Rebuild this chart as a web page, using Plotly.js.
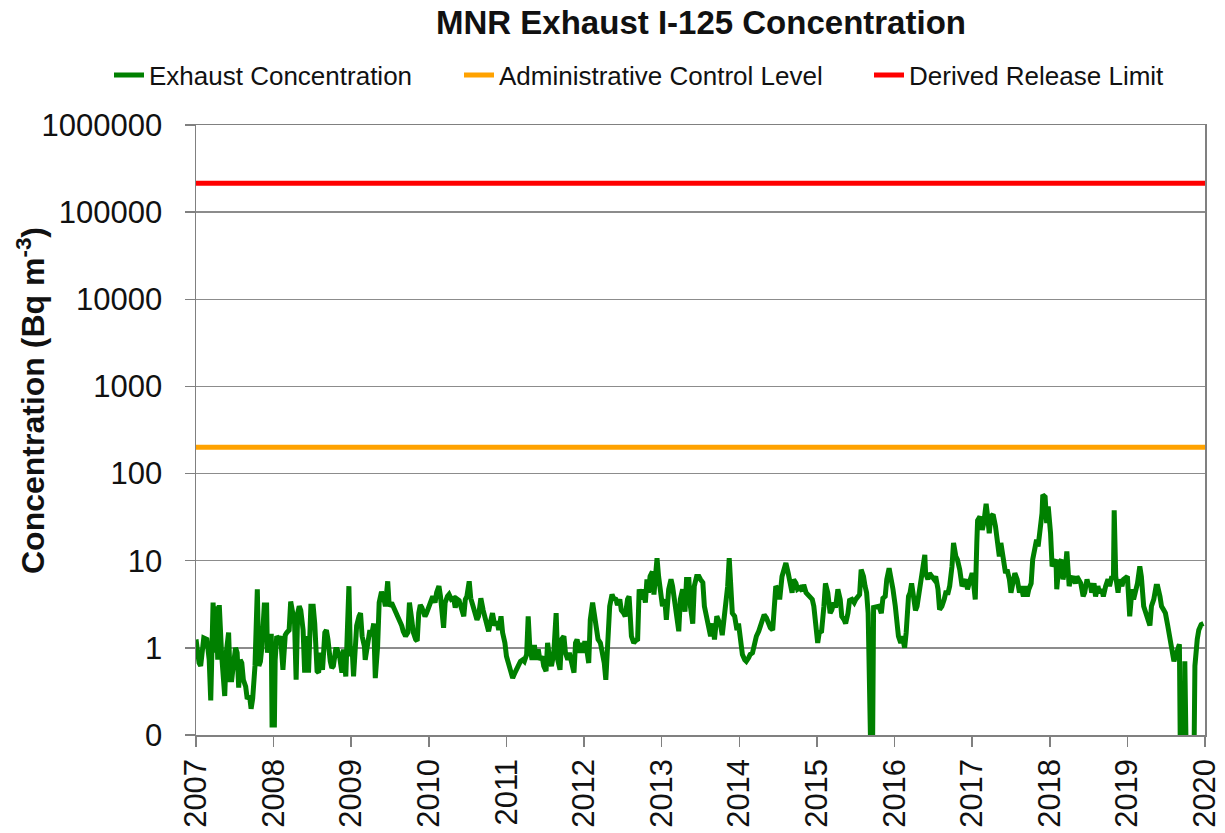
<!DOCTYPE html>
<html>
<head>
<meta charset="utf-8">
<script src="https://cdn.plot.ly/plotly-3.0.1.min.js"></script>
<style>
html,body{margin:0;padding:0;background:#fff;}
#chart{width:1225px;height:833px;}
</style>
</head>
<body>
<div id="chart"></div>
<script>
// ---- Data ----
const years = [
2007.00,2007.02,2007.04,2007.06,2007.10,2007.14,2007.17,2007.19,2007.22,2007.24,
2007.26,2007.28,2007.30,2007.33,2007.35,2007.37,2007.39,2007.42,2007.44,2007.46,
2007.48,2007.51,2007.53,2007.55,2007.57,2007.59,2007.61,2007.64,2007.66,2007.69,
2007.71,2007.73,2007.76,2007.79,2007.81,2007.83,2007.85,2007.88,2007.91,2007.92,
2007.94,2007.97,2007.98,2008.01,2008.02,2008.04,2008.07,2008.09,2008.12,2008.15,
2008.17,2008.20,2008.22,2008.24,2008.27,2008.29,2008.31,2008.33,2008.35,2008.38,
2008.40,2008.43,2008.45,2008.48,2008.51,2008.53,2008.56,2008.58,2008.60,2008.63,
2008.66,2008.68,2008.70,2008.73,2008.75,2008.77,2008.80,2008.82,2008.85,2008.88,
2008.90,2008.93,2008.97,2008.99,2009.01,2009.03,2009.05,2009.07,2009.10,2009.12,
2009.14,2009.17,2009.18,2009.21,2009.24,2009.26,2009.29,2009.31,2009.34,2009.36,
2009.39,2009.42,2009.44,2009.47,2009.49,2009.52,2009.55,2009.57,2009.60,2009.62,
2009.65,2009.67,2009.70,2009.73,2009.75,2009.78,2009.80,2009.83,
2009.85,2009.87,2009.89,2009.91,2009.93,2009.95,2009.97,2010.00,2010.03,2010.05,
2010.08,2010.10,2010.13,2010.15,2010.19,2010.21,2010.24,2010.26,2010.29,2010.32,
2010.34,2010.37,2010.39,2010.42,2010.45,2010.47,2010.49,2010.52,2010.54,2010.57,
2010.59,2010.62,2010.64,2010.67,2010.70,2010.72,2010.75,2010.77,2010.80,2010.82,
2010.85,2010.88,2010.90,2010.93,2010.95,2010.98,2011.00,2011.03,2011.06,2011.08,
2011.11,2011.13,2011.16,2011.18,2011.21,2011.23,2011.26,2011.28,2011.30,2011.33,
2011.36,2011.38,2011.41,2011.43,2011.46,2011.48,2011.51,2011.53,2011.56,2011.58,
2011.61,2011.64,2011.66,2011.69,2011.71,2011.74,2011.76,2011.79,2011.81,2011.84,
2011.87,2011.89,2011.91,2011.94,2011.96,2011.99,2012.01,2012.04,2012.06,2012.08,
2012.11,2012.13,2012.16,2012.18,2012.21,2012.23,2012.26,2012.28,2012.30,2012.33,
2012.36,2012.38,2012.41,2012.43,2012.46,2012.48,2012.51,2012.53,2012.56,2012.58,
2012.61,2012.64,2012.66,2012.69,2012.71,
2012.74,2012.76,2012.79,2012.81,2012.83,2012.85,2012.88,2012.90,2012.93,2012.94,
2012.96,2012.99,2013.01,2013.04,2013.06,2013.09,2013.12,2013.14,2013.17,2013.19,
2013.22,2013.24,2013.27,2013.30,2013.32,2013.35,2013.37,2013.40,2013.42,2013.45,
2013.48,2013.50,2013.53,2013.55,2013.58,2013.60,2013.63,2013.66,2013.68,2013.71,
2013.73,2013.76,2013.78,2013.81,2013.83,2013.85,2013.87,2013.89,2013.91,2013.94,
2013.97,2013.99,2014.02,2014.04,2014.07,2014.09,2014.12,2014.14,2014.17,2014.20,
2014.22,2014.25,2014.27,2014.30,2014.32,2014.35,2014.38,2014.40,2014.43,2014.45,
2014.47,2014.50,2014.52,2014.55,2014.57,2014.60,2014.63,2014.65,2014.68,2014.70,
2014.73,2014.75,2014.78,2014.81,2014.83,2014.86,2014.88,2014.91,2014.94,2014.96,
2014.99,2015.01,2015.03,2015.06,2015.09,2015.11,2015.14,2015.17,2015.19,2015.22,
2015.24,2015.27,2015.30,2015.32,2015.35,2015.37,2015.40,2015.42,2015.45,2015.48,
2015.50,2015.53,2015.55,2015.57,2015.60,2015.62,2015.64,2015.66,2015.68,2015.71,
2015.73,2015.77,2015.80,2015.83,2015.85,2015.88,2015.90,2015.93,2015.96,2015.98,
2016.01,2016.03,2016.05,2016.08,2016.10,2016.13,2016.15,2016.18,2016.20,2016.22,
2016.25,2016.27,2016.29,2016.32,2016.34,2016.37,2016.39,2016.40,2016.43,2016.45,
2016.48,2016.51,2016.53,2016.56,2016.58,2016.61,2016.64,2016.66,2016.69,2016.71,
2016.74,2016.76,2016.79,2016.81,2016.84,2016.87,2016.89,2016.92,2016.94,2016.97,
2017.00,2017.01,2017.04,2017.06,2017.07,2017.10,2017.13,2017.15,2017.18,2017.20,
2017.22,2017.24,2017.27,2017.30,2017.32,2017.35,2017.37,2017.40,2017.43,2017.45,
2017.48,2017.50,2017.53,2017.55,2017.58,2017.61,2017.63,2017.66,2017.68,2017.71,
2017.73,2017.76,2017.78,2017.80,2017.83,2017.85,2017.88,2017.90,2017.91,2017.94,
2017.96,2017.98,2018.01,2018.03,2018.05,2018.08,2018.09,2018.12,2018.15,2018.17,
2018.20,2018.22,2018.25,2018.27,2018.30,2018.33,2018.35,2018.38,2018.40,2018.43,
2018.45,2018.48,2018.50,2018.52,2018.54,2018.57,2018.59,2018.62,2018.64,2018.67,
2018.69,2018.72,2018.75,2018.77,2018.80,2018.82,2018.83,2018.85,2018.88,2018.90,
2018.93,2018.95,2018.98,2019.00,2019.03,2019.06,2019.08,2019.11,2019.13,2019.16,
2019.18,2019.21,2019.24,2019.26,2019.29,2019.31,2019.34,2019.37,2019.39,2019.42,
2019.44,2019.47,2019.49,2019.52,2019.55,2019.57,2019.60,2019.62,2019.65,2019.67,
2019.69,2019.73,2019.74,2019.77,2019.85,2019.87,2019.90,2019.92,2019.95,2019.98
];
const exhaustConc = [
1.25,0.88,0.67,0.62,1.3,1.25,0.73,0.25,3.3,0.88,
3.0,0.73,3.1,0.84,0.43,0.28,0.88,1.5,0.43,0.43,
0.62,1.0,0.88,0.35,0.73,0.67,0.43,0.36,0.26,0.28,
0.2,0.26,0.62,4.7,0.62,0.7,1.04,3.1,3.1,0.88,
1.36,1.36,0.13,0.13,0.73,1.36,1.25,1.36,0.56,1.4,
1.5,1.6,3.4,2.7,1.9,0.43,2.5,3.0,2.7,1.6,
0.52,1.36,0.52,3.0,3.0,1.9,0.54,0.52,0.88,0.56,
1.5,1.6,1.25,0.7,0.59,0.62,0.96,0.96,0.8,0.52,
0.96,0.47,5.1,0.8,1.04,0.47,1.25,1.8,2.3,2.5,
1.36,1.04,0.73,1.14,1.6,1.36,1.9,0.45,1.04,3.3,
4.4,3.7,3.0,5.8,3.0,3.3,2.9,2.7,2.3,2.1,
1.8,1.55,1.36,1.5,3.3,2.1,1.5,1.25,
1.2,2.5,3.1,2.9,2.4,2.3,2.5,3.0,3.7,3.9,
3.3,4.3,5.1,3.9,1.7,3.3,3.9,4.1,3.6,3.7,
2.9,3.6,3.5,2.7,2.3,3.6,3.9,5.8,3.7,3.0,
2.5,2.1,2.3,3.7,2.7,2.3,1.8,1.55,2.1,2.5,
1.8,2.0,1.6,2.3,1.5,1.14,0.8,0.65,0.52,0.45,
0.52,0.56,0.65,0.7,0.73,0.7,0.84,2.3,1.04,0.73,
1.08,0.73,0.96,0.73,0.8,0.62,0.54,1.14,0.7,0.62,
0.88,2.5,0.73,0.56,1.25,1.36,0.88,0.73,0.88,0.67,
0.52,1.14,1.25,0.88,1.14,0.88,1.2,0.88,0.67,2.1,
3.3,2.5,1.6,1.25,1.14,0.96,0.67,0.43,1.04,3.0,
4.1,3.7,3.6,3.1,3.6,2.7,2.5,2.3,3.6,3.9,
1.36,1.14,1.2,1.25,4.7,
3.6,4.7,3.3,6.1,4.3,6.6,7.5,4.1,7.9,10.7,
6.6,3.9,3.0,3.6,2.1,4.7,6.1,5.1,3.4,2.3,
1.55,3.6,4.7,2.6,6.1,6.1,3.0,1.9,5.1,6.6,
6.6,6.1,5.6,3.0,2.3,1.8,1.36,1.9,1.25,2.3,
2.1,1.8,1.4,2.5,3.0,5.1,10.7,6.1,2.5,2.3,
1.6,1.9,1.04,0.84,0.73,0.7,0.77,0.84,0.88,1.17,
1.36,1.55,1.8,2.1,2.4,2.2,1.9,1.7,1.6,3.0,
5.1,4.7,3.6,6.6,7.9,9.4,7.2,6.1,4.3,6.1,
5.5,4.7,4.9,4.5,5.3,4.3,4.1,3.9,3.6,3.0,
1.36,1.14,1.5,1.55,3.0,5.5,4.3,2.5,2.7,3.3,
2.9,4.7,3.6,2.3,2.1,1.9,2.5,3.5,3.6,3.3,
3.6,3.9,4.1,7.9,6.6,5.1,4.3,2.5,0,0,
2.9,3.0,3.0,2.5,3.7,3.9,6.1,8.2,6.1,4.7,
3.0,1.9,1.36,1.14,1.36,1.0,1.5,3.9,4.3,5.5,
3.6,2.7,3.0,4.3,6.6,9.4,11.7,7.2,6.1,7.2,
6.6,6.1,6.6,4.7,2.75,3.0,3.6,4.3,4.3,5.1,
8.6,16,11.2,10.3,7.9,5.1,5.5,6.1,4.7,6.1,
7.2,6.6,3.6,16,29,32,22.6,27,45,32,
20.7,32,34,25,19,11.2,16,9.4,7.2,7.9,
6.1,4.3,6.1,7.2,6.1,4.3,5.1,3.9,5.1,3.9,
4.7,5.5,10.3,13.4,17.4,14.6,22.6,35,57,54,
27,42,20.7,8.6,9.4,10.3,4.7,9.4,10.3,6.1,
7.9,12.8,5.1,6.1,6.6,5.5,6.6,6.1,5.5,3.9,
4.3,6.1,5.1,5.5,4.3,5.5,3.9,5.1,4.3,4.7,
3.9,5.1,6.1,5.1,6.6,6.1,38,6.6,4.3,6.1,
5.1,6.1,6.6,6.6,2.3,4.7,3.6,4.7,5.5,8.6,
6.6,3.0,2.5,2.1,1.8,3.0,3.6,5.1,5.1,3.9,
3.0,2.7,2.5,1.8,1.25,0.96,0.7,0.8,1.04,1.1,
0,0,0.7,0,0,0.62,1.25,1.6,1.85,1.9
];
const adminControlLevel = 200;
const derivedReleaseLimit = 215000;
const xStart = 2007, xEnd = 2020;
const xTickVals = [2007,2008,2009,2010,2011,2012,2013,2014,2015,2016,2017,2018,2019,2020];
const yTickVals = [0.1,1,10,100,1000,10000,100000,1000000];
const yTickText = ['0','1','10','100','1000','10000','100000','1000000'];
const seriesNames = ['Exhaust Concentration','Administrative Control Level','Derived Release Limit'];
const chartTitle = 'MNR Exhaust I-125 Concentration';
const yTitle = 'Concentration (Bq m<sup>-3</sup>)';

// zero readings cannot sit on a log axis: draw them below the floor (clipped at the "0" line)
const plotConc = exhaustConc.map(v => v > 0 ? v : 0.01);

const FONT = 'Liberation Sans, Arial, Helvetica, sans-serif';
const L = 196, R = 20, T = 125, B = 98, W = 1225, H = 833;
const pw = W - L - R, ph = H - T - B;
const px2x = p => (p - L) / pw;
const py2y = p => (H - B - p) / ph;

const traces = [
  {x: years, y: plotConc, type: 'scatter', mode: 'lines', name: seriesNames[0],
   line: {color: '#008000', width: 5}, legend: 'legend'},
  {x: [xStart, xEnd], y: [adminControlLevel, adminControlLevel], type: 'scatter', mode: 'lines',
   name: seriesNames[1], line: {color: '#FFA200', width: 5}, legend: 'legend2'},
  {x: [xStart, xEnd], y: [derivedReleaseLimit, derivedReleaseLimit], type: 'scatter', mode: 'lines',
   name: seriesNames[2], line: {color: '#FF0000', width: 5}, legend: 'legend3'}
];

const legBase = {orientation: 'h', yanchor: 'middle', xanchor: 'left', y: py2y(75),
  font: {family: FONT, size: 26, color: '#111'}, bgcolor: 'rgba(0,0,0,0)', borderwidth: 0};

const layout = {
  width: W, height: H,
  margin: {l: L, r: R, t: T, b: B, pad: 0},
  paper_bgcolor: '#fff', plot_bgcolor: '#fff',
  font: {family: FONT, color: '#111'},
  title: {text: chartTitle, x: px2x(701), xref: 'paper', xanchor: 'center',
          yref: 'container', y: 1 - 22 / H, yanchor: 'middle',
          font: {family: FONT, size: 33, weight: 'bold', color: '#111'}},
  showlegend: true,
  legend: Object.assign({}, legBase, {x: px2x(109)}),
  legend2: Object.assign({}, legBase, {x: px2x(459)}),
  legend3: Object.assign({}, legBase, {x: px2x(869)}),
  xaxis: {
    type: 'linear', range: [xStart, xEnd], tickmode: 'array', tickvals: xTickVals,
    ticktext: xTickVals.map(String), tickangle: -90,
    tickfont: {family: FONT, size: 31, color: '#111'},
    ticks: 'outside', ticklen: 10, tickwidth: 1.5, tickcolor: '#808080', ticklabelstandoff: 0,
    showgrid: false, zeroline: false,
    showline: true, linecolor: '#808080', linewidth: 1.5, mirror: true
  },
  yaxis: {
    type: 'log', range: [-1, 6], tickmode: 'array', tickvals: yTickVals, ticktext: yTickText,
    tickfont: {family: FONT, size: 31, color: '#111'},
    ticks: 'outside', ticklen: 10, tickwidth: 1.5, tickcolor: '#808080', ticklabelstandoff: 16,
    showgrid: true, gridcolor: '#8c8c8c', gridwidth: 1.5, zeroline: false,
    showline: true, linecolor: '#808080', linewidth: 1.5, mirror: true
  },
  annotations: [{
    text: yTitle, textangle: -90, xref: 'paper', yref: 'paper',
    x: px2x(31), y: py2y(401), xanchor: 'center', yanchor: 'middle', showarrow: false,
    font: {family: FONT, size: 32, weight: 'bold', color: '#111'}
  }]
};

Plotly.newPlot('chart', traces, layout, {displayModeBar: false, staticPlot: true});
</script>
</body>
</html>
